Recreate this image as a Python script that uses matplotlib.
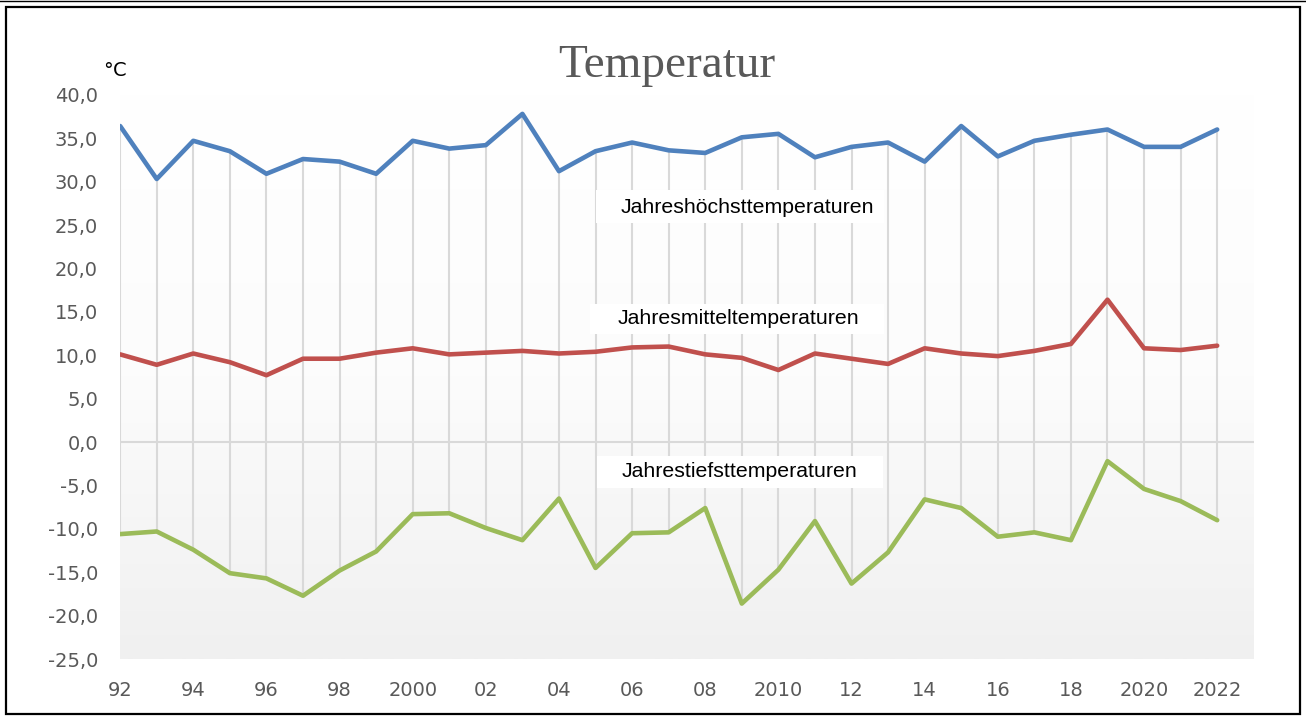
import numpy as np
import matplotlib.pyplot as plt
from matplotlib.patches import Rectangle
from matplotlib.colors import LinearSegmentedColormap

years = list(range(1992, 2023))

hoechst = [36.4, 30.3, 34.7, 33.5, 30.9, 32.6, 32.3, 30.9, 34.7, 33.8,
           34.2, 37.8, 31.2, 33.5, 34.5, 33.6, 33.3, 35.1, 35.5, 32.8,
           34.0, 34.5, 32.3, 36.4, 32.9, 34.7, 35.4, 36.0, 34.0, 34.0, 36.0]

mittel = [10.1, 8.9, 10.2, 9.2, 7.7, 9.6, 9.6, 10.3, 10.8, 10.1,
          10.3, 10.5, 10.2, 10.4, 10.9, 11.0, 10.1, 9.7, 8.3, 10.2,
          9.6, 9.0, 10.8, 10.2, 9.9, 10.5, 11.3, 16.4, 10.8, 10.6, 11.1]

tiefst = [-10.6, -10.3, -12.4, -15.1, -15.7, -17.7, -14.8, -12.6, -8.3, -8.2,
          -9.9, -11.3, -6.5, -14.5, -10.5, -10.4, -7.6, -18.6, -14.7, -9.1,
          -16.3, -12.7, -6.6, -7.6, -10.9, -10.4, -11.3, -2.2, -5.4, -6.8, -9.0]

tick_years = list(range(1992, 2023, 2))
tick_labels = ["92", "94", "96", "98", "2000", "02", "04", "06", "08", "2010",
               "12", "14", "16", "18", "2020", "2022"]

y_ticks = list(range(-25, 41, 5))

fig = plt.figure(figsize=(13.06, 7.18), dpi=100)
ax = fig.add_axes([0.092, 0.082, 0.868, 0.786])

# background gradient of the plot area
grad = np.linspace(0, 1, 256).reshape(-1, 1)
cmap = LinearSegmentedColormap.from_list("g", ["#ffffff", "#fcfcfc", "#f0f0f0"])
ax.imshow(grad, extent=(1992, 2023, -25, 40), aspect="auto",
          cmap=cmap, origin="upper", zorder=0)

# high-low lines
ax.vlines(years, tiefst, hoechst, color="#d9d9d9", lw=1.5, zorder=1)
ax.axhline(0, color="#d9d9d9", lw=1.5, zorder=1)

ax.plot(years, hoechst, color="#4f81bd", lw=3.3, zorder=3, solid_capstyle="round")
ax.plot(years, mittel, color="#c0504d", lw=3.3, zorder=3, solid_capstyle="round")
ax.plot(years, tiefst, color="#9bbb59", lw=3.3, zorder=3, solid_capstyle="round")

ax.set_xlim(1992, 2023)
ax.set_ylim(-25, 40)
ax.set_yticks(y_ticks)
ax.set_yticklabels([f"{v:.1f}".replace(".", ",") for v in y_ticks])
ax.set_xticks(tick_years)
ax.set_xticklabels(tick_labels)
ax.tick_params(axis="both", length=0, labelsize=14, colors="#595959")
ax.tick_params(axis="y", pad=16)
ax.tick_params(axis="x", pad=16)
for s in ax.spines.values():
    s.set_visible(False)

# series labels in white boxes
boxes = [
    ((2005.0, 25.2), 7.9, 3.8, 2009.15, 27.05, "Jahreshöchsttemperaturen"),
    ((2004.85, 12.5), 8.05, 3.45, 2008.9, 14.2, "Jahresmitteltemperaturen"),
    ((2005.05, -5.3), 7.8, 3.7, 2008.95, -3.35, "Jahrestiefsttemperaturen"),
]
for xy, w, h, tx, ty, txt in boxes:
    ax.add_patch(Rectangle(xy, w, h, facecolor="white", edgecolor="none", zorder=2))
    ax.text(tx, ty, txt, ha="center", va="center", fontsize=15.3,
            family="Liberation Sans", color="black", zorder=4)

fig.text(667 / 1306, 1 - 77 / 718, "Temperatur", ha="center", va="baseline",
         fontsize=34, family="Liberation Serif", color="#595959")
fig.text(103 / 1306, 1 - 76 / 718, "°", ha="left", va="baseline",
         fontsize=14, color="black")
fig.text(113 / 1306, 1 - 76 / 718, "C", ha="left", va="baseline",
         fontsize=14, color="black")

# outer frame
fig.add_artist(Rectangle((6 / 1306, 4 / 718), 1294 / 1306, 707 / 718,
                         transform=fig.transFigure, fill=False,
                         edgecolor="black", lw=1.6))
fig.add_artist(plt.Line2D([0, 1], [1 - 0.5 / 718, 1 - 0.5 / 718],
                          transform=fig.transFigure, color="black", lw=1))

fig.savefig("out.png", dpi=100)
